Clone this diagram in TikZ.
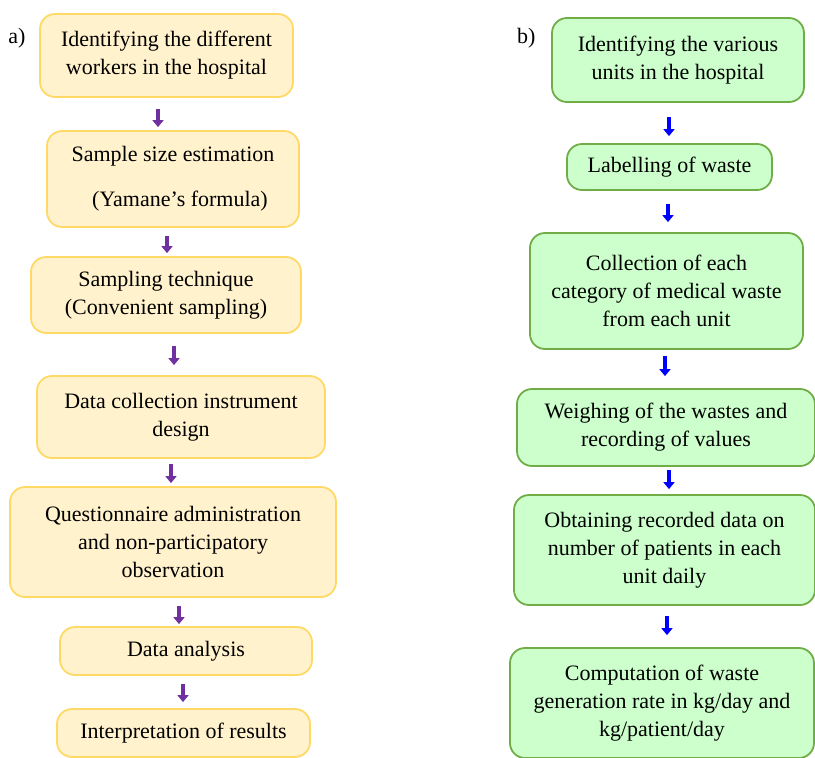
\documentclass[tikz,border=0pt]{standalone}
\usepackage{fontspec}
\setmainfont{Liberation Serif}
\usetikzlibrary{arrows.meta, positioning}
\definecolor{yfill}{HTML}{FFF2CC}
\definecolor{yline}{HTML}{FFD966}
\definecolor{gfill}{HTML}{CCFFCC}
\definecolor{gline}{HTML}{70AD47}
\definecolor{purp}{HTML}{7030A0}

\begin{document}
\begin{tikzpicture}
        [
            x=1pt, y=-1pt,
            every node/.style={font=\fontsize{22}{28}\selectfont, align=center},
            stage/.style={rectangle, rounded corners=15pt, line width=1.8pt,
                          inner sep=0pt, minimum width=#1},
            ybox/.style={stage=#1, draw=yline, fill=yfill},
            gbox/.style={stage=#1, draw=gline, fill=gfill},
            parr/.style={purp, line width=4.5pt, -{Triangle[width=11pt,length=7pt]}},
            barr/.style={blue, line width=4.5pt, -{Triangle[width=11pt,length=7pt]}}
        ]
        \useasboundingbox (0,0) rectangle (815,758);
        % left column
        \node (a1) [ybox=253pt, minimum height=83pt] at (166.5,55.5)
            {Identifying the different\\workers in the hospital};
        \node (a2) [ybox=252pt, minimum height=96pt] at (173,179)
            {Sample size estimation\\[17pt]\hspace*{14pt}(Yamane's formula)};
        \node (a3) [ybox=270pt, minimum height=76pt] at (166,295)
            {Sampling technique\\(Convenient sampling)};
        \node (a4) [ybox=288pt, minimum height=82pt] at (181,417)
            {Data collection instrument\\design};
        \node (a5) [ybox=326pt, minimum height=110pt] at (173,542)
            {Questionnaire administration\\and non-participatory\\observation};
        \node (a6) [ybox=252pt, minimum height=48pt] at (186,651) {Data analysis};
        \node (a7) [ybox=253pt, minimum height=48pt] at (183.5,733)
            {Interpretation of results};
        \node (la) [left=10pt of a1.north west, anchor=north east, yshift=-12pt] {a)};
        % right column
        \node (b1) [gbox=252pt, minimum height=84pt] at (678,60)
            {Identifying the various\\units in the hospital};
        \node (b2) [gbox=205pt, minimum height=46pt] at (669.5,167) {Labelling of waste};
        \node (b3) [gbox=273pt, minimum height=116pt] at (666.5,291)
            {Collection of each\\category of medical waste\\from each unit};
        \node (b4) [gbox=298pt, minimum height=77pt] at (666,427.5)
            {Weighing of the wastes and\\recording of values};
        \node (b5) [gbox=301pt, minimum height=110pt] at (664.5,550)
            {Obtaining recorded data on\\number of patients in each\\unit daily};
        \node (b6) [gbox=304pt, minimum height=110pt] at (662,703)
            {Computation of waste\\generation rate in kg/day and\\kg/patient/day};
        \node (lb) [left=12pt of b1.north west, anchor=north east, yshift=-8pt] {b)};
        % arrows
        \foreach \u/\v/\dx/\s/\e in {a1/a2/-8.5/11/3, a2/a3/-6/8/3, a3/a4/8/12/10,
                                     a4/a5/-10/5/3, a5/a6/6/8/2, a6/a7/-3/8/6}
            \draw [parr, shorten <=\s pt, shorten >=\e pt]
                ([xshift=\dx pt]\u.south) -- ([xshift=\dx pt]\u.south |- \v.north);
        \foreach \u/\v/\dx/\s/\e in {b1/b2/-9/14/7, b2/b3/-1.5/13/10, b3/b4/-1.5/6/12,
                                     b4/b5/3/3/5, b5/b6/2.5/10/12}
            \draw [barr, shorten <=\s pt, shorten >=\e pt]
                ([xshift=\dx pt]\u.south) -- ([xshift=\dx pt]\u.south |- \v.north);
    \end{tikzpicture}
\end{document}
